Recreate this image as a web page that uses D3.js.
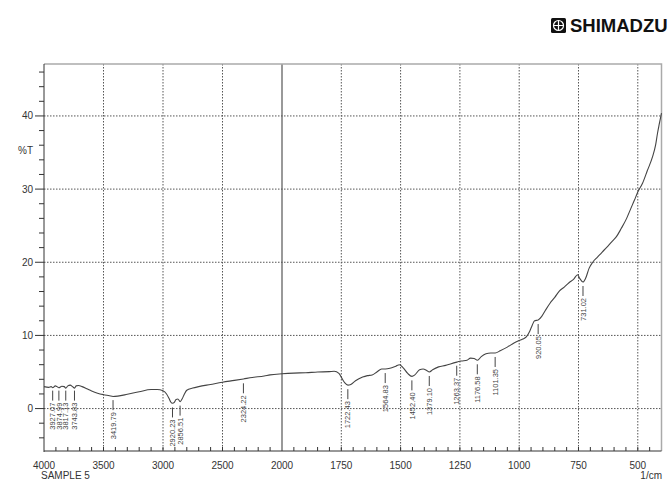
<!DOCTYPE html>
<html>
<head>
<meta charset="utf-8">
<script src="https://cdn.jsdelivr.net/npm/d3@7"></script>
<style>
  body { margin: 0; background: #fff; }
  svg { display: block; font-family: "Liberation Sans", Arial, sans-serif; }
  .grid line { stroke: #555; stroke-width: 1; stroke-dasharray: 1.5,1.5; }
  .frame { fill: none; stroke: #aaa; stroke-width: 1.5; }
  .axis-line { stroke: #333; stroke-width: 1; }
  .tick-label { font-size: 10px; fill: #333; }
  .peak line { stroke: #444; stroke-width: 1; }
  .peak text { font-size: 7.5px; fill: #444; }
</style>
</head>
<body>
<svg id="svg" width="670" height="480"></svg>
<script>
// spectrum (wavenumber 1/cm, %T)
var wavenumbers = [4000, 3960, 3940, 3927, 3905, 3890, 3875, 3850, 3830, 3817, 3800, 3780, 3760, 3743, 3730, 3710,
  3680, 3640, 3600, 3550, 3500, 3450, 3420, 3380, 3300, 3200, 3100, 3050, 3000, 2970, 2950, 2935, 2920, 2905,
  2890, 2875, 2856, 2840, 2820, 2800, 2750, 2700, 2600, 2500, 2400, 2324, 2250, 2150, 2100, 2000, 1950, 1900,
  1850, 1800, 1780, 1760, 1745, 1735, 1722, 1710, 1690, 1660, 1640, 1620, 1600, 1580, 1564, 1545, 1520, 1505,
  1490, 1470, 1452, 1440, 1420, 1405, 1390, 1379, 1365, 1340, 1310, 1290, 1263, 1245, 1220, 1205, 1190, 1176,
  1160, 1140, 1120, 1101, 1080, 1050, 1020, 1000, 985, 970, 955, 945, 935, 920, 905, 890, 870, 850, 830, 810,
  790, 770, 754, 745, 731, 720, 705, 690, 670, 650, 632, 610, 590, 570, 547, 530, 514, 500, 480, 460, 438, 425,
  417, 410, 400];
var transmittance = [3.0, 2.9, 3.0, 2.85, 3.1, 3.0, 2.85, 3.05, 3.0, 2.8, 3.1, 3.2, 3.0, 2.8, 3.1, 3.15,
  3.0, 2.7, 2.4, 2.1, 1.9, 1.75, 1.65, 1.7, 1.95, 2.3, 2.6, 2.6, 2.45, 2.0, 1.4, 0.9, 0.72, 0.85,
  1.25, 1.3, 0.95, 1.3, 2.0, 2.5, 2.8, 3.0, 3.3, 3.6, 3.85, 4.05, 4.25, 4.45, 4.6, 4.75, 4.85, 4.9,
  5.0, 5.05, 5.1, 4.8, 4.0, 3.5, 3.2, 3.3, 3.8, 4.3, 4.5, 4.6, 5.0, 5.4, 5.4, 5.5, 5.8, 6.0,
  5.6, 4.8, 4.4, 4.6, 5.3, 5.4, 5.2, 5.0, 5.3, 5.7, 5.9, 6.1, 6.35, 6.5, 6.6, 6.9, 6.85, 6.6,
  7.1, 7.5, 7.6, 7.6, 7.9, 8.4, 9.0, 9.3, 9.5, 9.8, 10.6, 11.4, 12.0, 12.1, 12.6, 13.4, 14.4, 15.2, 16.1, 16.6,
  17.2, 17.7, 18.3, 17.8, 17.3, 17.8, 19.2, 20.0, 20.7, 21.4, 22.0, 22.8, 23.5, 24.6, 26.0, 27.3, 28.5, 29.6, 30.8, 32.5, 34.4, 36.0,
  37.6, 38.8, 40.4];

// labelled peaks
var peakWavenumbers = [3927.07, 3874.99, 3817.13, 3743.83, 3419.79, 2920.23, 2856.51, 2324.22, 1722.43,
  1564.83, 1452.40, 1379.10, 1263.37, 1176.58, 1101.35, 920.05, 731.02];
var peakTransmittance = [3.0, 3.0, 3.0, 3.0, 1.7, 0.7, 0.95, 4.0, 3.2, 5.4, 4.4, 5.0, 6.4, 6.6, 7.6, 12.1, 17.3];

var xTicks = [4000, 3500, 3000, 2500, 2000, 1750, 1500, 1250, 1000, 750, 500];
var yTicks = [0, 10, 20, 30, 40];

(function() {
  var svg = d3.select("#svg");
  var mLeft = 44, mRight = 661.5, mTop = 64, mBottom = 451;

  // Shimadzu charts squeeze the region above 2000 1/cm to half scale
  var x = d3.scaleLinear().domain([4000, 2000, 400]).range([mLeft, 282, mRight]);
  var y = d3.scaleLinear().domain([-5.8, 47.1]).range([mBottom, mTop]);

  var minorX = d3.range(3900, 2000, -100).concat(d3.range(1950, 400, -50));
  var minorY = d3.range(-4, 48, 2);

  // grid
  var grid = svg.append("g").attr("class", "grid");
  grid.selectAll("line.h")
    .data(yTicks)
    .enter().append("line")
      .attr("class", "h")
      .attr("x1", mLeft).attr("x2", mRight)
      .attr("y1", (d) => { return y(d); })
      .attr("y2", (d) => { return y(d); });
  grid.selectAll("line.v")
    .data(xTicks.filter((d) => { return d !== 4000 && d !== 2000; }))
    .enter().append("line")
      .attr("class", "v")
      .attr("x1", (d) => { return x(d); })
      .attr("x2", (d) => { return x(d); })
      .attr("y1", mTop).attr("y2", mBottom);

  svg.append("line")
    .attr("x1", x(2000)).attr("x2", x(2000))
    .attr("y1", mTop).attr("y2", mBottom)
    .attr("stroke", "#555").attr("stroke-width", 1.2);

  // frame
  svg.append("path")
    .attr("class", "frame")
    .attr("d", "M" + mLeft + "," + mTop + "H" + mRight + "V" + mBottom);

  // y axis
  svg.append("line").attr("class", "axis-line")
    .attr("x1", mLeft).attr("x2", mLeft).attr("y1", mTop).attr("y2", mBottom + 1);
  svg.selectAll("line.ytick")
    .data(minorY)
    .enter().append("line")
      .attr("class", "axis-line")
      .attr("x1", (d) => { return d % 10 === 0 ? mLeft - 9 : mLeft - 5; })
      .attr("x2", mLeft)
      .attr("y1", (d) => { return y(d); })
      .attr("y2", (d) => { return y(d); });
  svg.selectAll("text.ylab")
    .data(yTicks)
    .enter().append("text")
      .attr("class", "tick-label")
      .attr("x", 33)
      .attr("y", (d) => { return y(d); })
      .attr("dy", "0.35em")
      .attr("text-anchor", "end")
      .text((d) => { return d; });
  svg.append("text")
    .attr("class", "tick-label")
    .attr("x", 33).attr("y", y(35.3)).attr("dy", "0.35em")
    .attr("text-anchor", "end")
    .text("%T");

  // x axis
  svg.append("line").attr("class", "axis-line")
    .attr("x1", mLeft).attr("x2", mRight).attr("y1", mBottom).attr("y2", mBottom);
  svg.selectAll("line.xminor")
    .data(minorX)
    .enter().append("line")
      .attr("class", "axis-line")
      .attr("x1", (d) => { return x(d); })
      .attr("x2", (d) => { return x(d); })
      .attr("y1", mBottom - 4).attr("y2", mBottom);
  svg.selectAll("text.xlab")
    .data(xTicks)
    .enter().append("text")
      .attr("class", "tick-label")
      .attr("x", (d) => { return x(d); })
      .attr("y", 469)
      .attr("text-anchor", "middle")
      .text((d) => { return d; });
  svg.append("text").attr("class", "tick-label")
    .attr("x", 41).attr("y", 479).text("SAMPLE 5");
  svg.append("text").attr("class", "tick-label")
    .attr("x", 662).attr("y", 479).attr("text-anchor", "end").text("1/cm");

  // spectrum
  var line = d3.line()
    .x((d) => { return x(d[0]); })
    .y((d) => { return y(d[1]); })
    .curve(d3.curveMonotoneX);
  svg.append("path")
    .datum(d3.zip(wavenumbers, transmittance))
      .attr("fill", "none")
      .attr("stroke", "#444")
      .attr("stroke-width", 1.1)
      .attr("stroke-linejoin", "round")
      .attr("d", line);

  // peak markers
  var fmt = d3.format(".2f");
  var peaks = svg.selectAll("g.peak")
    .data(d3.zip(peakWavenumbers, peakTransmittance))
    .enter().append("g")
      .attr("class", "peak")
      .attr("transform", (d) => { return "translate(" + x(d[0]) + "," + y(d[1]) + ")"; });
  peaks.append("line")
    .attr("x1", 0).attr("x2", 0)
    .attr("y1", 4).attr("y2", 14);
  peaks.append("text")
    .attr("transform", "translate(0,16) rotate(-90)")
    .attr("dy", "0.35em")
    .attr("text-anchor", "end")
    .text((d) => { return fmt(d[0]); });

  // logo
  var logo = svg.append("g").attr("transform", "translate(551,18)");
  logo.append("rect").attr("width", 15).attr("height", 15).attr("rx", 1.5).attr("fill", "#111");
  logo.append("circle").attr("cx", 7.5).attr("cy", 7.5).attr("r", 5)
    .attr("fill", "none").attr("stroke", "#fff").attr("stroke-width", 1.2);
  logo.append("path").attr("d", "M7.5,2.5V12.5M2.5,7.5H12.5")
    .attr("stroke", "#fff").attr("stroke-width", 1.2);
  logo.append("text")
    .attr("x", 19).attr("y", 14)
    .attr("font-size", 18.5).attr("font-weight", "bold")
    .attr("fill", "#111")
    .text("SHIMADZU");
})();
</script>
</body>
</html>
